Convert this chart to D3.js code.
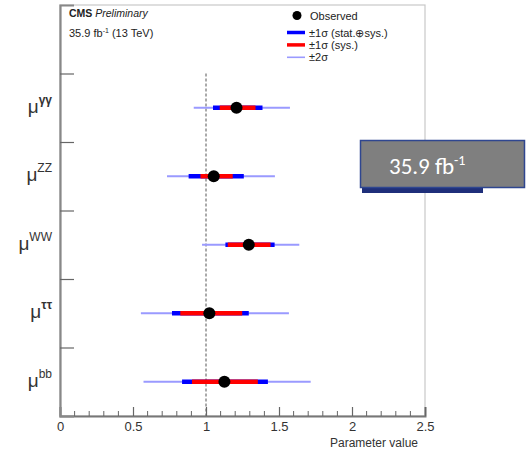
<!DOCTYPE html>
<html>
<head>
<meta charset="utf-8">
<script src="https://cdn.jsdelivr.net/npm/d3@7"></script>
<style>
  html, body { margin: 0; padding: 0; background: #fff; }
  svg { display: block; font-family: "Liberation Sans", Arial, Helvetica, sans-serif; }
</style>
</head>
<body>
<svg id="chart" width="526" height="451"></svg>
<script>
// Signal strength per decay channel (bottom to top)
const channels   = ["bb", "ττ", "WW", "ZZ", "γγ"];
const observed   = [1.126, 1.023, 1.293, 1.053, 1.209];
const oneSigLo   = [0.836, 0.767, 1.133, 0.881, 1.048];   // ±1σ (stat.⊕sys.)
const oneSigHi   = [1.424, 1.293, 1.470, 1.259, 1.387];
const sysLo      = [0.904, 0.824, 1.149, 0.962, 1.094];   // ±1σ (sys.)
const sysHi      = [1.355, 1.248, 1.442, 1.183, 1.339];
const twoSigLo   = [0.572, 0.554, 0.973, 0.733, 0.916];   // ±2σ
const twoSigHi   = [1.717, 1.568, 1.639, 1.472, 1.575];
const xTicks     = [0, 0.5, 1, 1.5, 2, 2.5];

const svg = d3.select("#chart");
const frameL = 60, frameR = 425, frameT = 5, frameB = 416;

const x = d3.scaleLinear().domain([0, 2.5]).range([frameL, frameR]);
// one empty slot above the channels keeps room for the legend
const y = d3.scaleLinear().domain([0, channels.length + 1]).range([frameB, frameT]);

// frame
svg.append("rect")
  .attr("x", frameL).attr("y", frameT)
  .attr("width", frameR - frameL).attr("height", frameB - frameT)
  .attr("fill", "none").attr("stroke", "#c8c8c8").attr("stroke-width", 1.2);

// SM expectation
svg.append("line")
  .attr("x1", x(1)).attr("x2", x(1))
  .attr("y1", y(channels.length)).attr("y2", frameB)
  .attr("stroke", "#555").attr("stroke-width", 1).attr("stroke-dasharray", "3,2");

// x axis: major ticks with labels, minor ticks every 0.1
const xAxis = d3.axisBottom(x).tickValues(xTicks).tickFormat(d3.format("")).tickSize(-9).tickPadding(12);
const gx = svg.append("g").attr("transform", `translate(0,${frameB})`).call(xAxis);
gx.select(".domain").attr("stroke", "#777").attr("stroke-width", 2);
gx.selectAll(".tick line").attr("stroke", "#666").attr("stroke-width", 1.2);
gx.selectAll(".tick text").attr("font-size", 13).attr("fill", "#333").attr("dy", "0.2em");
const minor = d3.range(1, 25).map(i => i / 10).filter(v => Math.abs(v * 2 - Math.round(v * 2)) > 1e-6);
svg.append("g").selectAll("line").data(minor).join("line")
  .attr("x1", d => x(d)).attr("x2", d => x(d))
  .attr("y1", frameB).attr("y2", frameB - 5)
  .attr("stroke", "#666").attr("stroke-width", 1);

svg.append("text")
  .attr("x", 418).attr("y", 447)
  .attr("text-anchor", "end").attr("font-size", 12).attr("fill", "#333")
  .text("Parameter value");

// y axis: separators between channels
const yAxis = d3.axisLeft(y).tickValues(d3.range(1, channels.length + 1)).tickSize(-14).tickFormat("");
const gy = svg.append("g").attr("transform", `translate(${frameL},0)`).call(yAxis);
gy.select(".domain").attr("stroke", "#888").attr("stroke-width", 2.2);
gy.selectAll(".tick line").attr("stroke", "#666").attr("stroke-width", 1.2);

// channel labels
const lab = svg.append("g").selectAll("text").data(channels).join("text")
  .attr("x", 52).attr("y", (d, i) => y(i + 0.5) + 5)
  .attr("text-anchor", "end").attr("fill", "#333");
lab.append("tspan").attr("font-size", 19).text("μ");
lab.append("tspan").attr("font-size", 12).attr("dy", -9)
  .attr("font-weight", d => (d === "γγ" || d === "ττ") ? "bold" : "normal").text(d => d);

// error bars
const rows = svg.append("g").selectAll("g").data(channels).join("g");
rows.append("line")
  .attr("x1", (d, i) => x(twoSigLo[i])).attr("x2", (d, i) => x(twoSigHi[i]))
  .attr("y1", (d, i) => y(i + 0.5)).attr("y2", (d, i) => y(i + 0.5))
  .attr("stroke", "#9a9aff").attr("stroke-width", 2);
rows.append("line")
  .attr("x1", (d, i) => x(oneSigLo[i])).attr("x2", (d, i) => x(oneSigHi[i]))
  .attr("y1", (d, i) => y(i + 0.5)).attr("y2", (d, i) => y(i + 0.5))
  .attr("stroke", "#0000ff").attr("stroke-width", 4.5);
rows.append("line")
  .attr("x1", (d, i) => x(sysLo[i])).attr("x2", (d, i) => x(sysHi[i]))
  .attr("y1", (d, i) => y(i + 0.5)).attr("y2", (d, i) => y(i + 0.5))
  .attr("stroke", "#ff0000").attr("stroke-width", 4.5);
rows.append("circle")
  .attr("cx", (d, i) => x(observed[i])).attr("cy", (d, i) => y(i + 0.5))
  .attr("r", 6).attr("fill", "#000");

// header
const hdr = svg.append("text").attr("x", 69).attr("y", 17).attr("font-size", 10.5).attr("fill", "#222");
hdr.append("tspan").attr("font-weight", "bold").text("CMS ");
hdr.append("tspan").attr("font-style", "italic").text("Preliminary");
const lumi = svg.append("text").attr("x", 69).attr("y", 37).attr("font-size", 11).attr("fill", "#222");
lumi.append("tspan").text("35.9 fb");
lumi.append("tspan").attr("font-size", 7).attr("dy", -4).text("-1");
lumi.append("tspan").attr("dy", 4).text(" (13 TeV)");

// legend
const legend = svg.append("g").attr("font-size", 11).attr("fill", "#222");
legend.append("circle").attr("cx", 297).attr("cy", 15.5).attr("r", 4.5).attr("fill", "#000");
legend.append("text").attr("x", 310).attr("y", 19.5).text("Observed");
const legItems = [
  { label: "±1σ (stat.⊕sys.)", color: "#0000ff", w: 3.5 },
  { label: "±1σ (sys.)", color: "#ff0000", w: 3.5 },
  { label: "±2σ", color: "#9a9aff", w: 1.6 }
];
legItems.forEach((it, k) => {
  const yy = 32.5 + k * 12.4;
  legend.append("line").attr("x1", 287).attr("x2", 305).attr("y1", yy).attr("y2", yy)
    .attr("stroke", it.color).attr("stroke-width", it.w);
  legend.append("text").attr("x", 309).attr("y", yy + 4).text(it.label);
});

// luminosity callout
const call = svg.append("g");
call.append("rect").attr("x", 362).attr("y", 146).attr("width", 121).attr("height", 47)
  .attr("fill", "#1f2f7a");
call.append("rect").attr("x", 360.5).attr("y", 140.5).attr("width", 164).attr("height", 47)
  .attr("fill", "#7f7f7f").attr("stroke", "#2f4690").attr("stroke-width", 1.5);
const ct = call.append("text").attr("x", 389).attr("y", 174).attr("fill", "#fff")
  .attr("font-family", "Calibri, 'Open Sans', 'Liberation Sans', sans-serif").attr("font-size", 23);
ct.append("tspan").text("35.9 fb");
ct.append("tspan").attr("font-size", 14).attr("dy", -9).text("-1");
</script>
</body>
</html>
